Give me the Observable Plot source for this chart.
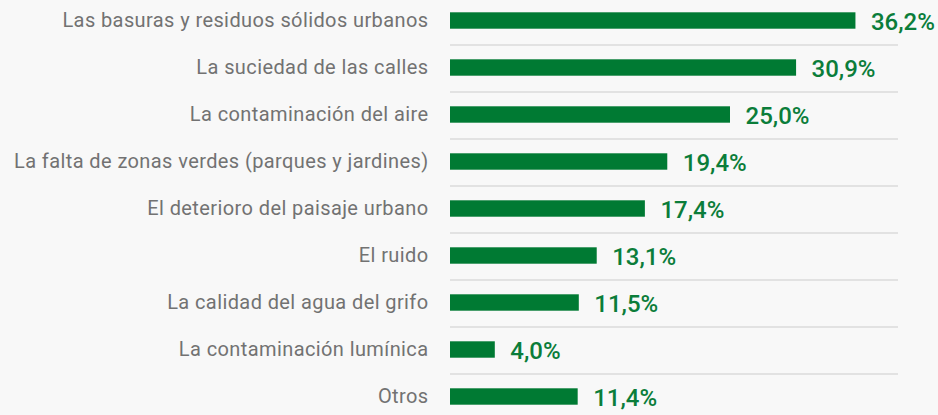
<!DOCTYPE html>
<html>
<head>
<meta charset="utf-8">
<script src="https://cdn.jsdelivr.net/npm/d3@7"></script>
<script src="https://cdn.jsdelivr.net/npm/@observablehq/plot@0.6"></script>
<style>
  html, body { margin: 0; padding: 0; background: #f8f8f8; }
  #chart { width: 938px; height: 415px; overflow: hidden; }
</style>
</head>
<body>
<div id="chart"></div>
<script>
const categories = [
  "Las basuras y residuos sólidos urbanos",
  "La suciedad de las calles",
  "La contaminación del aire",
  "La falta de zonas verdes (parques y jardines)",
  "El deterioro del paisaje urbano",
  "El ruido",
  "La calidad del agua del grifo",
  "La contaminación lumínica",
  "Otros"
];
const values = [36.2, 30.9, 25.0, 19.4, 17.4, 13.1, 11.5, 4.0, 11.4];

const data = categories.map((c, i) => ({category: c, value: values[i]}));
const fmt = v => v.toFixed(1).replace(".", ",") + "%";

const step = 47.6, first = 18.5;
const chart = Plot.plot({
  width: 938,
  height: 415,
  marginLeft: 450,
  marginRight: 40,
  marginTop: 0,
  marginBottom: 0,
  style: {background: "#f8f8f8", overflow: "visible"},
  x: {domain: [0, 40], axis: null},
  y: {domain: categories, range: [first - step / 2, first + step * 8 + step / 2], padding: 0, axis: null},
  marks: [
    Plot.ruleY(categories.slice(0, -1), {y: d => d, x1: 0, x2: 40, dy: 24, stroke: "#e2e2e2", strokeWidth: 2}),
    Plot.ruleX([0], {y1: -10, y2: 430, dx: -1, stroke: "#dedede", strokeWidth: 2}),
    Plot.barX(data, {x: "value", y: "category", fill: "#007a33", insetTop: (step - 17) / 2, insetBottom: (step - 17) / 2}),
    Plot.text(data, {x: 0, y: "category", text: "category", textAnchor: "end", dx: -22, dy: 0, fill: "#727272", fontSize: 20, fontFamily: "Roboto"}),
    Plot.text(data, {x: "value", y: "category", text: d => fmt(d.value), textAnchor: "start", dx: 15, dy: 1, fill: "#0b7d3a", fontSize: 24, fontWeight: 500, fontFamily: "Roboto"})
  ]
});
const textGroups = chart.querySelectorAll('g[aria-label="text"]');
if (textGroups.length) textGroups[0].setAttribute("letter-spacing", "0.4");
document.getElementById("chart").appendChild(chart);
</script>
</body>
</html>
